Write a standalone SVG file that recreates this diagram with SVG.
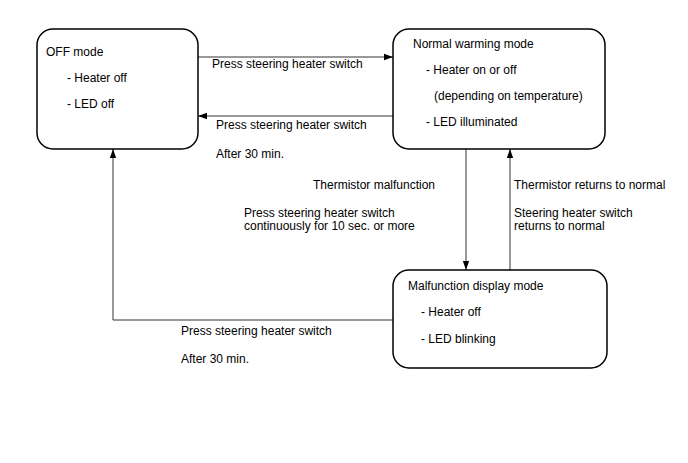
<svg xmlns="http://www.w3.org/2000/svg" width="688" height="463" viewBox="0 0 688 463">
<style>
.box{fill:#fff;stroke:#000;stroke-width:1.5}
text{font-family:"Liberation Sans",Arial,sans-serif;font-size:12px;fill:#000}
.c{fill:none;stroke:#333;stroke-width:1}
</style>
<defs>
<marker id="ah" viewBox="0 0 10 10" refX="10" refY="5" markerWidth="9" markerHeight="9" markerUnits="userSpaceOnUse" orient="auto">
<path d="M0,1.5 L10,5 L0,8.5 z" fill="#000"/>
</marker>
</defs>
<rect width="688" height="463" fill="#fff"/>
<g id="connectors">
<line class="c" x1="198" y1="57" x2="393" y2="57" marker-end="url(#ah)"/>
<line class="c" x1="393" y1="116" x2="198" y2="116" marker-end="url(#ah)"/>
<line class="c" x1="466" y1="149" x2="466" y2="270" marker-end="url(#ah)"/>
<line class="c" x1="510" y1="270" x2="510" y2="149" marker-end="url(#ah)"/>
<polyline class="c" points="393,320 113,320 113,149" marker-end="url(#ah)"/>
<text x="212" y="68">Press steering heater switch</text>
<text x="216" y="129">Press steering heater switch</text>
<text x="216" y="158">After 30 min.</text>
<text x="313" y="189">Thermistor malfunction</text>
<text x="244" y="217">Press steering heater switch</text>
<text x="244" y="230">continuously for 10 sec. or more</text>
<text x="514" y="189">Thermistor returns to normal</text>
<text x="514" y="217">Steering heater switch</text>
<text x="514" y="230">returns to normal</text>
<text x="181" y="335">Press steering heater switch</text>
<text x="181" y="363">After 30 min.</text>
</g>
<g id="off-mode">
<rect class="box" x="37" y="29" width="161" height="120" rx="16"/>
<text x="46" y="56">OFF mode</text>
<text x="67" y="82">- Heater off</text>
<text x="67" y="108">- LED off</text>
</g>
<g id="normal-mode">
<rect class="box" x="393" y="29" width="212" height="120" rx="16"/>
<text x="413" y="48">Normal warming mode</text>
<text x="426" y="74">- Heater on or off</text>
<text x="434" y="100">(depending on temperature)</text>
<text x="426" y="126">- LED illuminated</text>
</g>
<g id="malfunction-mode">
<rect class="box" x="393" y="270" width="214" height="98" rx="16"/>
<text x="408" y="290">Malfunction display mode</text>
<text x="421" y="316">- Heater off</text>
<text x="421" y="343">- LED blinking</text>
</g>
</svg>
